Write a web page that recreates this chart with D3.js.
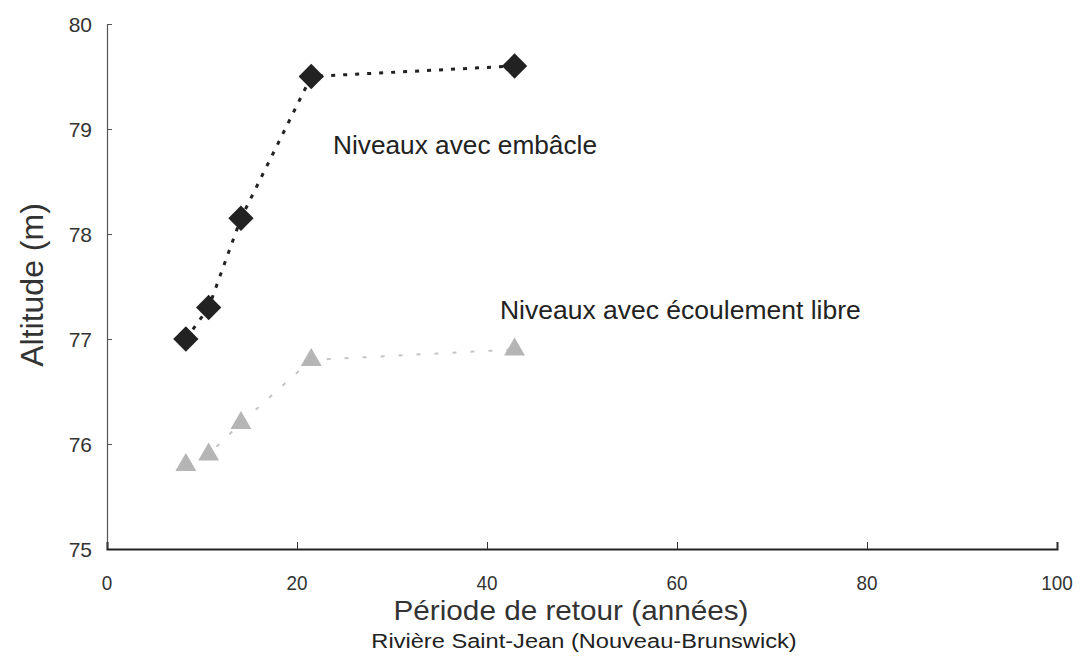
<!DOCTYPE html>
<html><head><meta charset="utf-8">
<script src="https://cdn.jsdelivr.net/npm/d3@7"></script>
<style>body{margin:0;background:#fff}svg{display:block}</style>
</head><body>
<svg id="c" width="1083" height="657"></svg>
<script>
const returnPeriods = [8.3, 10.7, 14.1, 21.5, 42.9];
const iceJamLevels = [77.0, 77.3, 78.15, 79.5, 79.6];
const freeFlowLevels = [75.8, 75.9, 76.2, 76.8, 76.9];
const xTicks = [0, 20, 40, 60, 80, 100];
const yTicks = [75, 76, 77, 78, 79, 80];

const svg = d3.select("#c");
const font = "'Liberation Sans', Arial, sans-serif";
const x = d3.scaleLinear().domain([0, 100]).range([107, 1057]);
const y = d3.scaleLinear().domain([75, 80]).range([549, 24]);

function stretched(sel, cx, sx) {
  return sel.attr("transform", `translate(${cx},0) scale(${sx},1) translate(${-cx},0)`);
}

// axes
const yAxis = svg.append("g").attr("transform", "translate(107,0)")
  .call(d3.axisRight(y).tickValues(yTicks).tickSize(5).tickFormat(""));
yAxis.select(".domain").attr("stroke", "#555").attr("stroke-width", 1.2);
yAxis.selectAll(".tick line").attr("stroke", "#555");
const xAxis = svg.append("g").attr("transform", "translate(0,549)")
  .call(d3.axisTop(x).tickValues(xTicks).tickSize(7).tickFormat(""));
xAxis.select(".domain").attr("stroke", "#222").attr("stroke-width", 2);
xAxis.selectAll(".tick line").attr("stroke", "#333");

svg.selectAll(".ylab").data(yTicks).enter().append("text")
  .attr("x", 92).attr("y", d => y(d) + 8).attr("text-anchor", "end")
  .attr("font-family", font).attr("font-size", 21).attr("fill", "#333").text(d => d);
svg.selectAll(".xlab").data(xTicks).enter().append("text")
  .attr("x", d => x(d)).attr("y", 590).attr("text-anchor", "middle")
  .attr("font-family", font).attr("font-size", 21).attr("fill", "#333")
  .attr("transform", d => `translate(${x(d)},0) scale(0.9,1) translate(${-x(d)},0)`).text(d => d);

// titles
svg.append("text").attr("transform", "translate(43,285) rotate(-90)")
  .attr("text-anchor", "middle").attr("font-family", font).attr("font-size", 32)
  .attr("fill", "#333").text("Altitude (m)");
stretched(svg.append("text").attr("x", 571).attr("y", 620).attr("text-anchor", "middle")
  .attr("font-family", font).attr("font-size", 27).attr("fill", "#333")
  .text("Période de retour (années)"), 571, 1.1);
stretched(svg.append("text").attr("x", 584).attr("y", 648).attr("text-anchor", "middle")
  .attr("font-family", font).attr("font-size", 21).attr("fill", "#222")
  .text("Rivière Saint-Jean (Nouveau-Brunswick)"), 584, 1.125);

// lines
const iceData = returnPeriods.map((p, i) => [p, iceJamLevels[i]]);
const freeData = returnPeriods.map((p, i) => [p, freeFlowLevels[i]]);
const line = d3.line().x(d => x(d[0])).y(d => y(d[1]));
svg.append("path").attr("d", line(iceData)).attr("fill", "none")
  .attr("stroke", "#222").attr("stroke-width", 3).attr("stroke-dasharray", "4,8");
svg.append("path").attr("d", line(freeData)).attr("fill", "none")
  .attr("stroke", "#c4c4c4").attr("stroke-width", 2).attr("stroke-dasharray", "4,14");

// markers
svg.selectAll(".dia").data(iceData).enter().append("path")
  .attr("d", d3.symbol().type(d3.symbolSquare).size(320))
  .attr("transform", d => `translate(${x(d[0])},${y(d[1])}) rotate(45)`)
  .attr("fill", "#222");
svg.selectAll(".tri").data(freeData).enter().append("path")
  .attr("d", d3.symbol().type(d3.symbolTriangle).size(190))
  .attr("transform", d => `translate(${x(d[0])},${y(d[1])})`)
  .attr("fill", "#b5b5b5");

// annotations
stretched(svg.append("text").attr("x", 333).attr("y", 154).attr("font-family", font)
  .attr("font-size", 25).attr("fill", "#222").text("Niveaux avec embâcle"), 333, 1.05);
stretched(svg.append("text").attr("x", 500).attr("y", 319).attr("font-family", font)
  .attr("font-size", 25).attr("fill", "#222").text("Niveaux avec écoulement libre"), 500, 1.06);
</script>
</body></html>
